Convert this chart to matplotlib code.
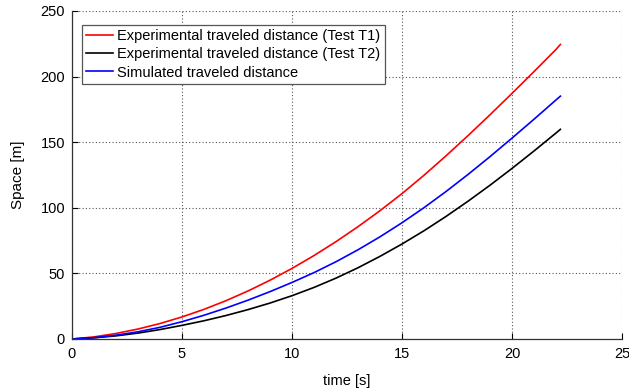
import matplotlib
matplotlib.use("Agg")
import matplotlib.pyplot as plt

plt.rcParams["font.family"] = ["Liberation Sans", "DejaVu Sans"]

# time samples [s]
time_s = [0, 1, 2, 3, 4, 5, 6, 7, 8, 9, 10, 11, 12, 13, 14, 15, 16, 17, 18, 19, 20, 21, 22, 22.2]

# travelled distance [m]
test_t1 = [0, 1.6, 4.2, 7.6, 11.8, 16.8, 22.6, 29.2, 36.6, 44.8, 53.8, 63.6, 74.2, 85.6,
           97.8, 110.8, 124.8, 139.6, 155.0, 170.9, 187.2, 203.8, 220.7, 224.5]
test_t2 = [0, 0.9, 2.4, 4.5, 7.2, 10.4, 13.9, 17.9, 22.4, 27.4, 33.0, 39.3, 46.4, 54.3,
           63.0, 72.4, 82.5, 93.4, 105.0, 117.2, 130.0, 143.3, 157.0, 159.8]
simulated = [0, 1.0, 2.9, 5.5, 8.9, 13.2, 18.1, 23.6, 29.6, 36.1, 43.1, 50.6, 58.9, 68.0,
             77.9, 88.6, 100.1, 112.4, 125.4, 139.0, 153.1, 167.5, 182.2, 185.1]

labels = ["Experimental traveled distance (Test T1)",
          "Experimental traveled distance (Test T2)",
          "Simulated traveled distance"]
x_ticks = [0, 5, 10, 15, 20, 25]
y_ticks = [0, 50, 100, 150, 200, 250]

fig = plt.figure(figsize=(6.29, 3.90), dpi=100)
ax = fig.add_axes([72 / 629, 51 / 390, 550 / 629, 328 / 390])

ax.plot(time_s, test_t1, color="#ff0000", lw=1.2, label=labels[0])
ax.plot(time_s, test_t2, color="#000000", lw=1.2, label=labels[1])
ax.plot(time_s, simulated, color="#0000ff", lw=1.2, label=labels[2])

ax.set_xlim(0, 25)
ax.set_ylim(0, 250)
ax.set_xticks(x_ticks)
ax.set_yticks(y_ticks)
ax.grid(True, color="#555555", linestyle=(0, (1, 2)), linewidth=0.8)
ax.tick_params(direction="in", length=4, width=0.8, labelsize=10.5, colors="#000000")
ax.tick_params(axis="x", pad=6)
ax.tick_params(axis="y", pad=5)
for side in ("top", "right"):
    ax.spines[side].set_visible(False)
for side in ("left", "bottom"):
    ax.spines[side].set_color("#333333")
    ax.spines[side].set_linewidth(0.9)

ax.set_xlabel("time [s]", fontsize=10.5, labelpad=9)
ax.set_ylabel("Space [m]", fontsize=11, labelpad=11)

leg = ax.legend(loc="upper left", bbox_to_anchor=(10 / 550, 1 - 14 / 328), fontsize=10.5,
                frameon=True, fancybox=False, framealpha=1, edgecolor="#555555",
                handlelength=1.8, handletextpad=0.3, borderpad=0.3, labelspacing=0.28,
                borderaxespad=0)
leg.get_frame().set_linewidth(0.9)

fig.savefig("out.png", dpi=100)
